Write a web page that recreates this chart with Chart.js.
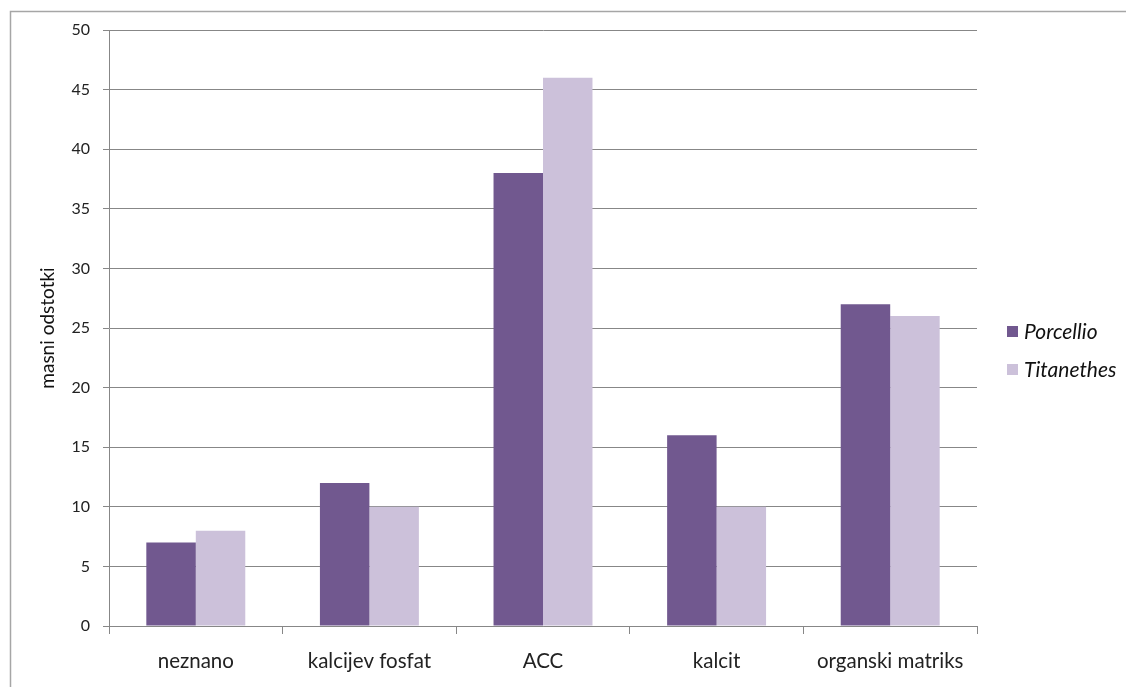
<!DOCTYPE html>
<html>
<head>
<meta charset="utf-8">
<script src="https://cdn.jsdelivr.net/npm/chart.js@4.4.0/dist/chart.umd.min.js"></script>
<style>
html,body{margin:0;padding:0;background:#fff;}
#wrap{width:1126px;height:687px;position:relative;}
</style>
</head>
<body>
<div id="wrap"><canvas id="c" width="1126" height="687"></canvas></div>
<script>
const categories = ['neznano', 'kalcijev fosfat', 'ACC', 'kalcit', 'organski matriks'];
const porcellio = [7, 12, 38, 16, 27];
const titanethes = [8, 10, 46, 10, 26];
const seriesNames = ['Porcellio', 'Titanethes'];
const yTicks = [0, 5, 10, 15, 20, 25, 30, 35, 40, 45, 50];
const yTitle = 'masni odstotki';

const FONT = 'Lato, "Open Sans", sans-serif';
const GRID = '#878787';

const frame = {
  id: 'frame',
  beforeDraw(chart) {
    const ctx = chart.ctx;
    ctx.save();
    ctx.strokeStyle = '#a6a6a6';
    ctx.lineWidth = 1.5;
    ctx.strokeRect(10.5, 11.5, 2000, 2000);
    ctx.restore();
  }
};

const legendPlugin = {
  id: 'customLegend',
  afterDraw(chart) {
    const ctx = chart.ctx;
    ctx.save();
    const ys = [332, 370];
    chart.data.datasets.forEach((ds, i) => {
      ctx.fillStyle = ds.backgroundColor;
      ctx.fillRect(1007, ys[i] - 6, 11, 11);
      ctx.fillStyle = '#111';
      ctx.font = 'italic 21px ' + FONT;
      ctx.textBaseline = 'middle';
      ctx.textAlign = 'left';
      ctx.fillText(ds.label, 1024, ys[i]);
    });
    ctx.restore();
  }
};

new Chart(document.getElementById('c'), {
  type: 'bar',
  data: {
    labels: categories,
    datasets: [
      { label: seriesNames[0], data: porcellio, backgroundColor: '#71588F' },
      { label: seriesNames[1], data: titanethes, backgroundColor: '#CCC1DA' }
    ]
  },
  options: {
    responsive: false,
    animation: false,
    layout: { padding: { left: 0, right: 149, top: 30, bottom: 0 } },
    plugins: { legend: { display: false }, tooltip: { enabled: false } },
    datasets: { bar: { categoryPercentage: 0.57, barPercentage: 1.0 } },
    scales: {
      x: {
        grid: { offset: true, drawOnChartArea: false, drawTicks: true, tickLength: 8, color: GRID },
        border: { color: GRID, width: 1 },
        ticks: { color: '#222', font: { family: FONT, size: 20.5 }, padding: 15, maxRotation: 0 },
        afterFit(s) { s.height = 61; }
      },
      y: {
        min: 0, max: 50,
        afterBuildTicks(s) { s.ticks = yTicks.map(v => ({ value: v })); },
        grid: { color: GRID, tickLength: 6, drawTicks: true },
        border: { color: GRID, width: 1 },
        ticks: { color: '#222', font: { family: FONT, size: 16 }, padding: 13 },
        title: { display: true, text: yTitle, color: '#111', font: { family: FONT, size: 19 }, padding: { top: 36, bottom: 0 } },
        afterFit(s) { s.width = 109; }
      }
    }
  },
  plugins: [frame, legendPlugin]
});
</script>
</body>
</html>
